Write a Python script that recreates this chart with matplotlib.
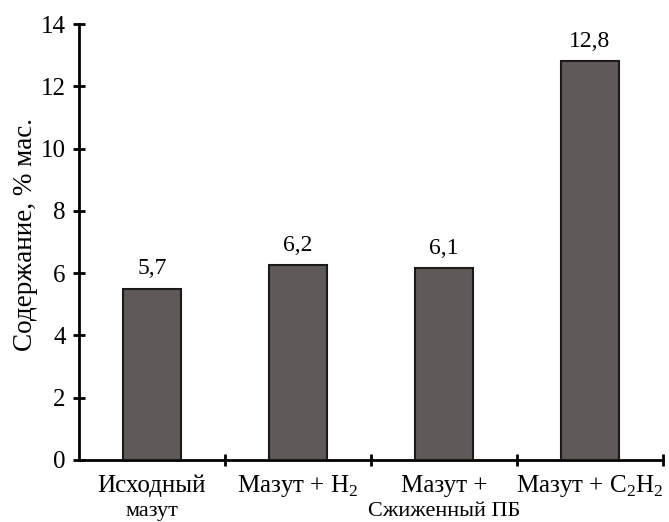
import matplotlib
matplotlib.use("Agg")
import matplotlib.pyplot as plt
from matplotlib.transforms import blended_transform_factory

plt.rcParams['font.family'] = ['Liberation Serif', 'DejaVu Serif']

categories_line1 = ["Исходный", "Мазут + H$_\\mathregular{2}$", "Мазут +", "Мазут + C$_\\mathregular{2}$H$_\\mathregular{2}$"]
categories_line2 = ["мазут", "", "Сжиженный ПБ", ""]
heights = [5.5, 6.25, 6.15, 12.8]
value_labels = ["5,7", "6,2", "6,1", "12,8"]
yticks = [0, 2, 4, 6, 8, 10, 12, 14]

fig = plt.figure(figsize=(6.69, 5.22), dpi=100)
ax = fig.add_axes([0.118, 0.119, 0.873, 0.835])

x = list(range(len(heights)))
ax.bar(x, heights, width=0.4, color='#5f5a58', edgecolor='#1a1a1a', linewidth=1.5, zorder=3)
for xi, h, lab in zip(x, heights, value_labels):
    ax.text(xi, h + 0.47, lab, ha='center', va='baseline', fontsize=17)

ax.set_xlim(-0.5, 3.5)
ax.set_ylim(0, 14)
ax.set_yticks(yticks)
ax.set_yticklabels([str(v) for v in yticks], fontsize=18)
ax.set_ylabel("Содержание, % мас.", fontsize=19.5)
ax.yaxis.set_label_coords(-0.07, 0.516)

ax.set_xticks([0.5, 1.5, 2.5, 3.5])
ax.set_xticklabels([])
ax.tick_params(axis='x', direction='inout', length=8, width=2)
ax.tick_params(axis='y', direction='inout', length=9, width=2, pad=5)

trans = blended_transform_factory(ax.transData, ax.transAxes)
for xi, l1, l2 in zip(x, categories_line1, categories_line2):
    ax.text(xi, -0.0734, l1, ha='center', va='baseline', fontsize=18, transform=trans)
    if l2:
        ax.text(xi, -0.128, l2, ha='center', va='baseline', fontsize=16, transform=trans)

for s in ['top', 'right']:
    ax.spines[s].set_visible(False)
for s in ['left', 'bottom']:
    ax.spines[s].set_linewidth(2)
    ax.spines[s].set_color('black')

fig.savefig("out.png", dpi=100)
